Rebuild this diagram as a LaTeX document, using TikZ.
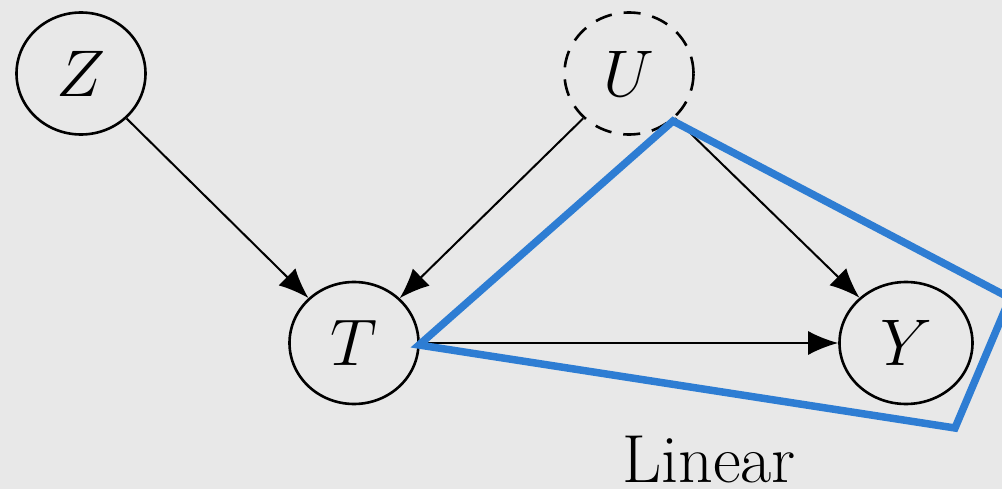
\RequirePackage{fix-cm}
\documentclass[tikz,border=0pt]{standalone}
\usetikzlibrary{arrows.meta,shapes.geometric}
\definecolor{bgc}{HTML}{E8E8E8}
\definecolor{hullblue}{HTML}{2E7DD3}
\begin{document}
\begin{tikzpicture}[x=1pt,y=-1pt,
  var/.style={ellipse,draw,line width=2.6pt,minimum width=129pt,minimum height=122pt,inner sep=0pt,
    font=\fontsize{66}{66}\selectfont},
  latent/.style={var,dash pattern=on 17pt off 12pt},
  arr/.style={line width=2pt,-{Latex[length=30pt,width=24pt]}},
  hull/.style={draw=hullblue,line width=7.5pt,line join=miter}]
\fill[bgc] (0,0) rectangle (1002,489);
\useasboundingbox (0,0) rectangle (1002,489);
\node[var] (Z) at (81,73.5) {$Z$};
\node[latent] (U) at (629,73.5) {$U$};
\node[var] (T) at (354,343) {$T$};
\node[var,minimum width=133pt] (Y) at (906,343) {$Y$};
\draw[arr] (Z) -- (T);
\draw[arr] (U) -- (T);
\draw[arr] (U) -- (Y);
\draw[arr] (T) -- (Y);
\begin{scope}
\clip (0,0) rectangle (1002,489);
\coordinate (h1) at (673,121);
\coordinate (h2) at (419,345);
\coordinate (h3) at (955,428);
\coordinate (h4) at (1010,298);
\draw[hull] (h1) -- (h2) -- (h3) -- (h4) -- cycle;
\end{scope}
\node[anchor=base,font=\fontsize{68}{68}\selectfont,inner sep=0pt] (lin) at (709,482) {Linear};
\end{tikzpicture}
\end{document}
